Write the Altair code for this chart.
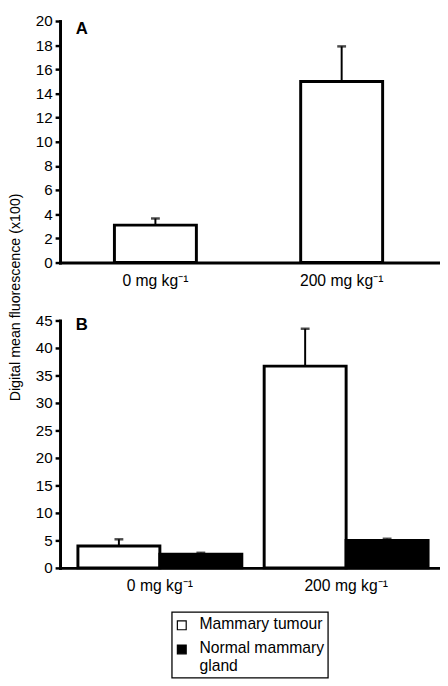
import altair as alt
import pandas as pd

# ---- data ----
doses = ["0 mg kg\u207b\u00b9", "200 mg kg\u207b\u00b9"]
series = ["Mammary tumour", "Normal mammary gland"]
series_fill = ["white", "black"]

a_tumour = [3.1, 15.0]
a_tumour_err = [0.55, 2.9]

b_tumour = [4.0, 36.7]
b_tumour_err = [1.2, 6.8]
b_normal = [2.5, 5.0]
b_normal_err = [0.25, 0.3]

a_ticks = list(range(0, 21, 2))
b_ticks = list(range(0, 46, 5))
panel_labels = ["A", "B"]
y_title = "Digital mean fluorescence (x100)"

FONT = "Liberation Sans"
W = 387

df_a = pd.DataFrame({"dose": doses, "series": series[0], "value": a_tumour, "err": a_tumour_err})
df_a["upper"] = df_a["value"] + df_a["err"]

df_b = pd.DataFrame({
    "dose": doses + doses,
    "series": [series[0]] * 2 + [series[1]] * 2,
    "value": b_tumour + b_normal,
    "err": b_tumour_err + b_normal_err,
})
df_b["upper"] = df_b["value"] + df_b["err"]

fill_scale = alt.Scale(domain=series, range=series_fill)


def xenc(align):
    return alt.X("dose:N",
                 scale=alt.Scale(domain=doses, paddingInner=0.12, paddingOuter=0.08, align=align),
                 sort=doses, title=None,
                 axis=alt.Axis(labelAngle=0, ticks=False, labelPadding=10,
                               labelFontSize=16, domainWidth=3))


def yaxis(vals, title=None, **kw):
    return alt.Axis(values=vals, grid=False, tickSize=5, tickWidth=2.5, domainWidth=3,
                    labelFontSize=15.5, labelPadding=3, labelOverlap=False,
                    title=title, **kw)


# ---- panel A ----
ax_a = yaxis(a_ticks, y_title, titleX=-45, titleY=281, titleAlign="center",
             titleBaseline="middle", titleFontSize=14.5, titleFontWeight="normal")
sc_a = alt.Scale(domain=[0, 20], nice=False)
xa = xenc(0.45)
bars_a = alt.Chart(df_a).mark_bar(width={"band": 0.5}, stroke="black", strokeWidth=3).encode(
    x=xa, y=alt.Y("value:Q", scale=sc_a, axis=ax_a),
    fill=alt.Fill("series:N", scale=fill_scale, legend=None),
)
rule_a = alt.Chart(df_a).mark_rule(color="black", strokeWidth=2).encode(
    x=xa, y=alt.Y("value:Q", scale=sc_a, axis=ax_a), y2="upper:Q")
cap_a = alt.Chart(df_a).mark_tick(color="black", thickness=2.5, size=9).encode(
    x=xa, y=alt.Y("upper:Q", scale=sc_a, axis=ax_a))
lab_a = alt.Chart(alt.Data(values=[{"p": panel_labels[0]}])).mark_text(
    fontWeight="bold", fontSize=17, align="left", baseline="middle"
).encode(x=alt.value(16), y=alt.value(8), text="p:N")
panel_a = alt.layer(bars_a, rule_a, cap_a, lab_a).properties(width=W, height=246)

# ---- panel B ----
ax_b = yaxis(b_ticks)
sc_b = alt.Scale(domain=[0, 45], nice=False)
xb = xenc(0.6)
xoff = alt.XOffset("series:N", scale=alt.Scale(domain=series, paddingInner=0, paddingOuter=0))
bars_b = alt.Chart(df_b).mark_bar(stroke="black", strokeWidth=3).encode(
    x=xb, xOffset=xoff, y=alt.Y("value:Q", scale=sc_b, axis=ax_b),
    fill=alt.Fill("series:N", scale=fill_scale, legend=None),
)
rule_b = alt.Chart(df_b).mark_rule(color="black", strokeWidth=2).encode(
    x=xb, xOffset=xoff, y=alt.Y("value:Q", scale=sc_b, axis=ax_b), y2="upper:Q")
cap_b = alt.Chart(df_b).mark_tick(color="black", thickness=2.5, size=9).encode(
    x=xb, xOffset=xoff, y=alt.Y("upper:Q", scale=sc_b, axis=ax_b))
lab_b = alt.Chart(alt.Data(values=[{"p": panel_labels[1]}])).mark_text(
    fontWeight="bold", fontSize=17, align="left", baseline="middle"
).encode(x=alt.value(16), y=alt.value(4.5), text="p:N")
panel_b = alt.layer(bars_b, rule_b, cap_b, lab_b).properties(width=W, height=252)

# ---- legend ----
leg_df = pd.DataFrame({"series": series})
leg_y = alt.Y("series:N", scale=alt.Scale(domain=series, range=[-0.5, 24], padding=0), axis=None)
box = alt.Chart(alt.Data(values=[{"b": 1}])).mark_rect(
    fill="white", stroke="black", strokeWidth=1.3
).encode(x=alt.value(114), x2=alt.value(273), y=alt.value(-14), y2=alt.value(53))
sym = alt.Chart(leg_df).mark_square(size=81, stroke="black", strokeWidth=1.2, opacity=1).encode(
    x=alt.value(124), y=leg_y,
    fill=alt.Fill("series:N", scale=fill_scale, legend=None),
)
txt = alt.Chart(leg_df).transform_calculate(
    lines="length(datum.series) > 16 ? [substring(datum.series, 0, lastindexof(datum.series, ' ')), "
          "substring(datum.series, lastindexof(datum.series, ' ') + 1)] : [datum.series]"
).mark_text(align="left", baseline="top", dy=-9, fontSize=16, lineHeight=18, color="black").encode(
    x=alt.value(142), y=leg_y, text="lines:N")
legend = alt.layer(box, sym, txt).properties(width=W, height=52)

chart = alt.vconcat(panel_a, panel_b, legend, spacing=59, bounds="flush").properties(
    padding=0
).configure_view(stroke=None).configure_axis(
    labelFont=FONT, titleFont=FONT, labelColor="black", titleColor="black",
    domainColor="black", tickColor="black", domainCap="square"
).configure_text(font=FONT)

chart.save("out.html", embed_options={"renderer": "svg", "actions": False})
